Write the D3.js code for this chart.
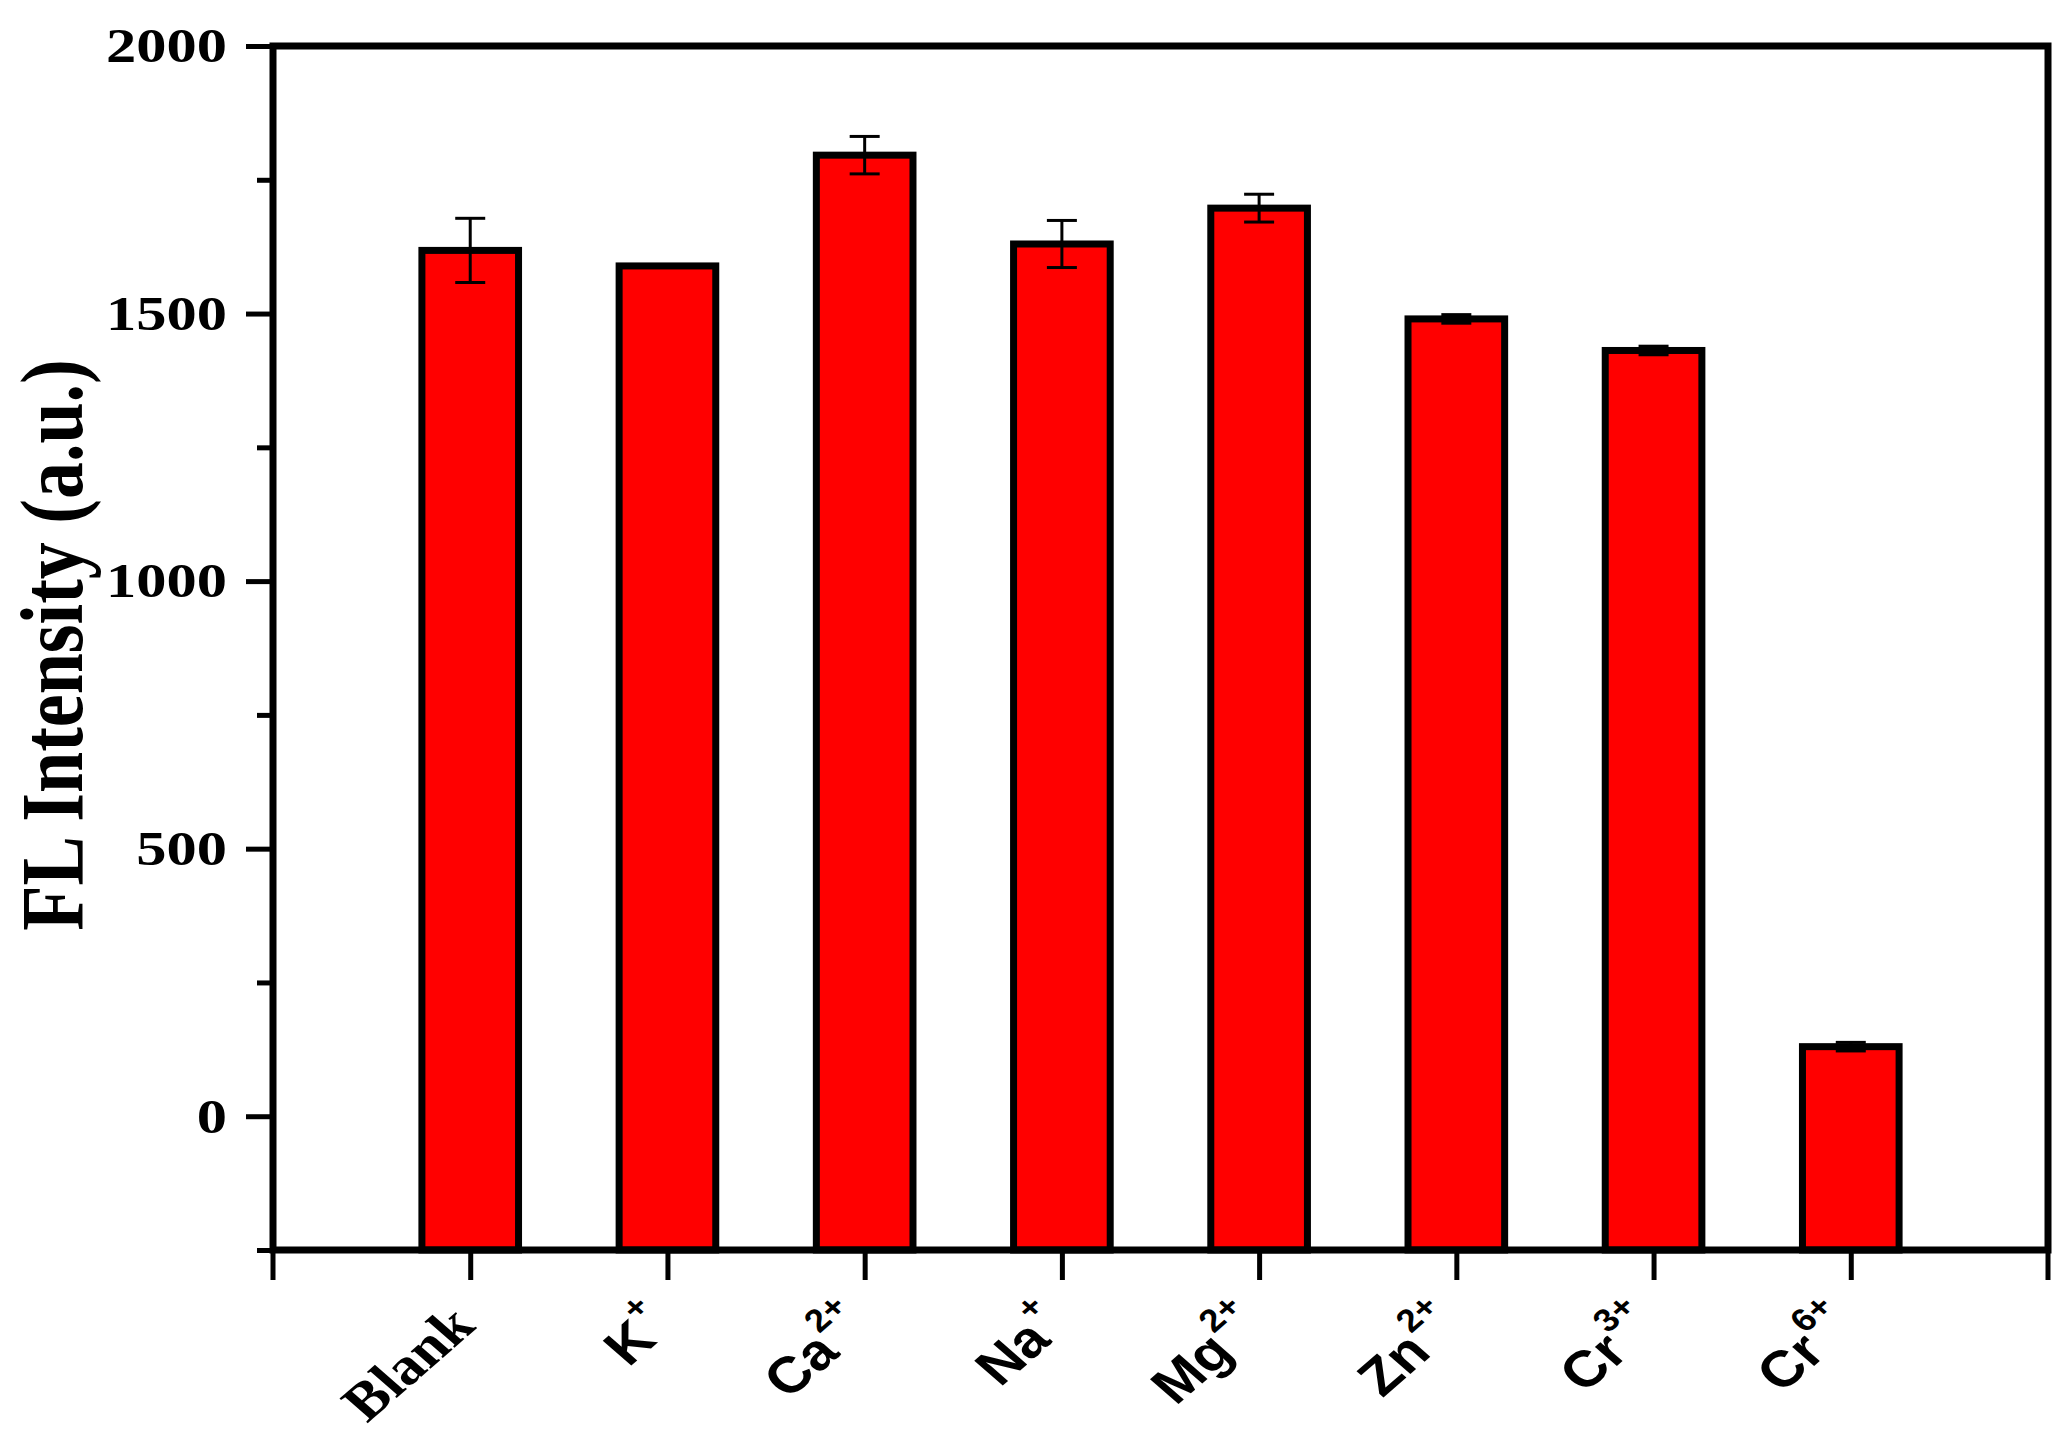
<!DOCTYPE html>
<html><head><meta charset="utf-8">
<script src="https://cdn.jsdelivr.net/npm/d3@7"></script>
<style>body{margin:0;background:#fff}</style>
</head><body>
<svg id="chart" width="2071" height="1444" xmlns="http://www.w3.org/2000/svg"></svg>
<script>
const categories = ["Blank","K","Ca","Na","Mg","Zn","Cr","Cr"];
const charges    = ["","+","2+","+","2+","2+","3+","6+"];
const values     = [1618,1589,1796,1630,1697,1490,1431,130];
const errors     = [60,0,35,44,26,8,8,8];
const yMajorTicks = [0,500,1000,1500,2000];
const yMinorTicks = [-250,250,750,1250,1750];
const yDomain = [-250,2000];

const W=2071,H=1444;
const L=273,R=2048,T=46,B=1250;
const svg=d3.select('#chart');
svg.append('rect').attr('width',W).attr('height',H).attr('fill','#fff');

const ids = categories.map((c,i)=>i);
const x = d3.scalePoint().domain(ids).range([L,R]).padding(1);
const y = d3.scaleLinear().domain(yDomain).range([B,T]);
const bw = x.step()*0.49;

// bars
svg.append('g').selectAll('rect').data(ids).join('rect')
  .attr('x',i=>x(i)-bw/2).attr('y',i=>y(values[i]))
  .attr('width',bw).attr('height',i=>y(yDomain[0])-y(values[i]))
  .attr('fill','#ff0000').attr('stroke','#000').attr('stroke-width',7);

// error bars
const eg = svg.append('g').attr('stroke','#000').attr('stroke-width',3);
ids.filter(i=>errors[i]>0).forEach(i=>{
  const cx=x(i), cw=15;
  eg.append('line').attr('x1',cx).attr('x2',cx).attr('y1',y(values[i]-errors[i])).attr('y2',y(values[i]+errors[i]));
  eg.append('line').attr('x1',cx-cw).attr('x2',cx+cw).attr('y1',y(values[i]+errors[i])).attr('y2',y(values[i]+errors[i]));
  eg.append('line').attr('x1',cx-cw).attr('x2',cx+cw).attr('y1',y(values[i]-errors[i])).attr('y2',y(values[i]-errors[i]));
});

// x axis ticks
const xTick = 30;
const xa = svg.append('g').attr('transform',`translate(0,${B})`)
  .call(d3.axisBottom(x).tickSize(xTick).tickFormat(''));
xa.select('.domain').remove();
xa.selectAll('line').attr('stroke','#000').attr('stroke-width',5);
x.range().forEach(px=>{
  xa.append('line').attr('x1',px).attr('x2',px).attr('y1',0).attr('y2',xTick).attr('stroke','#000').attr('stroke-width',5);
});

// y axis ticks
const ya = svg.append('g').attr('transform',`translate(${L},0)`)
  .call(d3.axisLeft(y).tickValues(yMajorTicks).tickSize(27).tickFormat(''));
ya.select('.domain').remove();
ya.selectAll('line').attr('stroke','#000').attr('stroke-width',5);
const ym = svg.append('g').attr('transform',`translate(${L},0)`)
  .call(d3.axisLeft(y).tickValues(yMinorTicks).tickSize(16).tickFormat(''));
ym.select('.domain').remove();
ym.selectAll('line').attr('stroke','#000').attr('stroke-width',5);

// frame
svg.append('rect').attr('x',L).attr('y',T).attr('width',R-L).attr('height',B-T)
  .attr('fill','none').attr('stroke','#000').attr('stroke-width',7);

// y tick labels
svg.append('g').selectAll('text').data(yMajorTicks).join('text')
  .attr('transform',d=>`translate(227,${y(d)}) scale(1.26,1)`)
  .attr('text-anchor','end').attr('dy','0.34em')
  .attr('font-family','"Liberation Serif","Times New Roman",serif').attr('font-weight','bold')
  .attr('font-size',48).attr('fill','#000').text(d=>d);

// y title
svg.append('text')
  .attr('transform',`translate(82,645) scale(1.2,1) rotate(-90)`)
  .attr('text-anchor','middle')
  .attr('font-family','"Liberation Serif","Times New Roman",serif').attr('font-weight','bold')
  .attr('font-size',74).attr('fill','#000').text('FL Intensity (a.u.)');

// x labels (rotated, horizontally stretched like the source figure)
const xl = svg.append('g').attr('font-weight','bold').attr('fill','#000');
ids.forEach(i=>{
  const g = xl.append('g').attr('transform',`translate(${x(i)+7},1328) scale(1.15,1) rotate(-45)`);
  const serif = !charges[i];
  const t = g.append('text').attr('text-anchor','end')
    .attr('font-family', serif ? '"Liberation Serif","Times New Roman",serif' : '"Liberation Sans",Arial,sans-serif')
    .attr('font-size', serif ? 53 : 51);
  t.append('tspan').text(categories[i]);
  if(charges[i]) t.append('tspan').attr('font-size',32).attr('dx',1).attr('dy',-28).text(charges[i]);
});
</script>
</body></html>
